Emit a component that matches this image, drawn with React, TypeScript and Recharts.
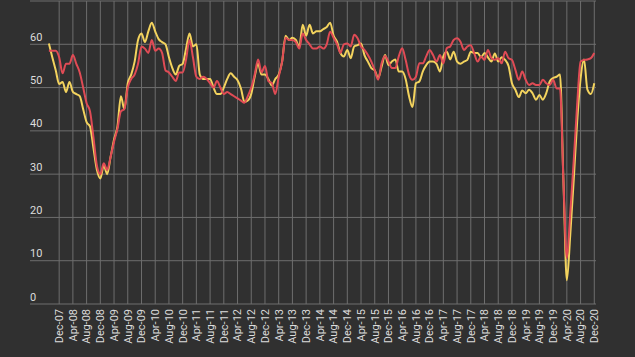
import React from 'react';
import { LineChart, Line, XAxis, YAxis, CartesianGrid, ReferenceLine } from 'recharts';

// Month offsets relative to Dec-07 (0). Series start Sep-07 (-3) and end Dec-20 (156).
const firstOffset = -3;

const tickLabels = [
  'Dec-07', 'Apr-08', 'Aug-08', 'Dec-08', 'Apr-09', 'Aug-09', 'Dec-09', 'Apr-10', 'Aug-10', 'Dec-10',
  'Apr-11', 'Aug-11', 'Dec-11', 'Apr-12', 'Aug-12', 'Dec-12', 'Apr-13', 'Aug-13', 'Dec-13', 'Apr-14',
  'Aug-14', 'Dec-14', 'Apr-15', 'Aug-15', 'Dec-15', 'Apr-16', 'Aug-16', 'Dec-16', 'Apr-17', 'Aug-17',
  'Dec-17', 'Apr-18', 'Aug-18', 'Dec-18', 'Apr-19', 'Aug-19', 'Dec-19', 'Apr-20', 'Aug-20', 'Dec-20',
];
const tickOffsets = [
  0, 4, 8, 12, 16, 20, 24, 28, 32, 36, 40, 44, 48, 52, 56, 60, 64, 68, 72, 76,
  80, 84, 88, 92, 96, 100, 104, 108, 112, 116, 120, 124, 128, 132, 136, 140, 144, 148, 152, 156,
];
const yTicks = [0, 10, 20, 30, 40, 50, 60, 70];

const yellowSeries = [
  60.2, 57, 54,
  50.8, 51.3, 49, 51.3, 49, 48.5, 48, 45, 42, 41, 36, 31,
  29, 32, 30, 34, 38, 41, 48, 45, 51, 53, 56, 61,
  62.5, 60.5, 63, 65, 63, 61.2, 60.5, 60, 57, 54.5, 53, 55,
  55.5, 59, 62.5, 59.5, 60, 53, 52, 52, 52, 50, 48.5, 48.5,
  50, 52, 53.3, 52.5, 51.7, 49.8, 46.7, 47, 48.5, 52.5, 55.5, 53,
  53, 52, 50.5, 52, 53, 56, 62, 61, 61.5, 61, 59.5, 64.5,
  62, 64.5, 62.5, 63, 63, 63.5, 64, 65, 62, 60.6, 58, 57.2,
  58.7, 56.8, 59.5, 59.8, 60.2, 57.5, 56, 54.5, 54, 52.2, 54.8, 57.5,
  55.2, 56, 56.5, 53.7, 53.7, 52, 48, 45.5, 51, 51.4, 53.7, 55.2,
  56, 56, 55.5, 53.7, 57.2, 58.3, 56.5, 58.3, 56, 55.5, 56, 56.4,
  58.3, 58, 58, 57, 58, 57, 56, 57.9, 56, 57, 56.4, 55,
  51, 49.5, 47.8, 49.3, 48.7, 49.5, 48.7, 47.2, 48.3, 47.2, 48.7, 51.4,
  52.2, 52.5, 53, 28.6, 5.5, 16, 28.6, 42, 52, 56.5, 49.5, 48.5,
  51,
];

const redSeries = [
  58.5, 58.5, 58.5,
  57, 53.3, 55.5, 55.5, 57.5, 55.5, 53.5, 50, 46.4, 44.5, 38.5, 32,
  30, 32.5, 31, 34, 37.5, 40.5, 44.5, 45, 50, 52, 53, 55.5,
  59.5, 59, 58, 61, 58.5, 59, 58, 54, 53.5, 52.5, 51.5, 53.5,
  53.5, 56.5, 61, 57, 52.5, 52, 52.5, 52, 51, 50, 51.5, 50,
  48.5, 49, 48.5, 48, 47.5, 47, 46.5, 48, 50, 53, 56.5, 53.5,
  55, 51.5, 51, 48.5, 52.5, 56, 61.5, 61, 61, 60.5, 59, 62.5,
  61, 60, 59, 59, 59.5, 59, 60, 62.9, 61.5, 60, 58, 60,
  60.2, 59.5, 62.2, 61.4, 59.5, 58.7, 57.5, 56, 54, 51.8, 55.6, 57.3,
  56, 54.5, 54.5, 57.2, 59.1, 56.4, 53, 51.8, 52.5, 55.6, 55.6, 57.2,
  58.7, 57.5, 56, 57.5, 55.6, 59.1, 59.5, 61, 61.4, 60.6, 58.7, 59.5,
  59.8, 57.9, 56, 57.2, 56.4, 58.7, 56.8, 56.4, 56.8, 55.6, 58.3, 56.8,
  56.4, 54.1, 51.8, 53.7, 51.8, 50.6, 51, 50.6, 50.6, 51.8, 51, 50.6,
  51.8, 49.8, 49.8, 28.6, 10.6, 21, 33, 46, 56, 56.4, 56.5, 56.8,
  58,
];

const data = yellowSeries.map((v, i) => ({ t: i + firstOffset, yellow: v, red: redSeries[i] }));

const labelColor = '#dcdcdc';
const gridColor = '#6e6e6e';

function XTick(props: any) {
  const { x, y, payload } = props;
  const idx = tickOffsets.indexOf(payload.value);
  return (
    <text
      transform={`translate(${x},${y}) rotate(-90)`}
      textAnchor="end"
      dy="0.35em"
      fill={labelColor}
      fontSize={11}
      fontFamily="Roboto"
    >
      {tickLabels[idx]}
    </text>
  );
}

function YTick(props: any) {
  const { x, y, payload } = props;
  if (payload.value === 70) return <g />;
  return (
    <text x={x} y={y - 7} textAnchor="start" dominantBaseline="central" fill={labelColor} fontSize={11} fontFamily="Roboto">
      {payload.value}
    </text>
  );
}

export default function App() {
  return (
    <div style={{ position: 'absolute', left: 0, top: 0, width: 635, height: 357, background: '#303030' }}>
      <LineChart width={635} height={357} data={data} margin={{ top: 1, right: 39, bottom: 0, left: 0 }}>
        <CartesianGrid stroke={gridColor} strokeWidth={1} vertical={false} />
        {tickOffsets.map((t) => (
          <ReferenceLine key={t} x={t} stroke={gridColor} strokeWidth={1} />
        ))}
        <XAxis
          dataKey="t"
          type="number"
          domain={[-8.5, 156.5]}
          ticks={tickOffsets}
          interval={0}
          tick={<XTick />}
          tickLine={false}
          axisLine={false}
          tickSize={0}
          tickMargin={5}
          height={53}
          allowDataOverflow
        />
        <YAxis
          type="number"
          domain={[0, 70]}
          ticks={yTicks}
          interval={0}
          width={30}
          tick={<YTick />}
          tickLine={false}
          axisLine={false}
          tickSize={0}
          tickMargin={0}
        />
        <Line type="monotone" dataKey="yellow" stroke="#f3d35e" strokeWidth={2} dot={false} isAnimationActive={false} />
        <Line type="monotone" dataKey="red" stroke="#e04b55" strokeWidth={2} dot={false} isAnimationActive={false} />
      </LineChart>
    </div>
  );
}
